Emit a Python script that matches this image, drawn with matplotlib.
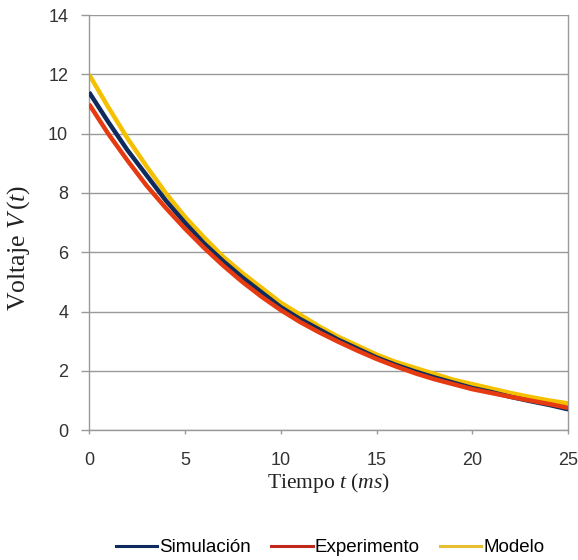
import matplotlib
matplotlib.use("Agg")
import matplotlib.pyplot as plt
from matplotlib.lines import Line2D

t = list(range(0, 26))
simulacion = [11.4, 10.4, 9.45, 8.6, 7.75, 7.0, 6.3, 5.7, 5.15, 4.65, 4.15, 3.75, 3.4, 3.05, 2.75,
              2.45, 2.2, 1.98, 1.78, 1.6, 1.42, 1.28, 1.12, 0.98, 0.85, 0.7]
experimento = [11.0, 10.0, 9.1, 8.25, 7.5, 6.8, 6.15, 5.55, 5.0, 4.5, 4.05, 3.65, 3.3, 2.98, 2.68,
               2.4, 2.15, 1.92, 1.72, 1.55, 1.38, 1.25, 1.12, 1.0, 0.88, 0.75]
modelo = [12.0, 10.9, 9.85, 8.9, 8.0, 7.2, 6.5, 5.85, 5.3, 4.8, 4.3, 3.9, 3.5, 3.15, 2.85,
          2.55, 2.3, 2.1, 1.9, 1.7, 1.55, 1.4, 1.25, 1.12, 1.0, 0.9]
labels = ["Simulación", "Experimento", "Modelo"]
xticks = [0, 5, 10, 15, 20, 25]
yticks = [0, 2, 4, 6, 8, 10, 12, 14]

plt.rcParams["mathtext.fontset"] = "custom"
plt.rcParams["mathtext.rm"] = "Liberation Serif"
plt.rcParams["mathtext.it"] = "Liberation Serif:italic"

fig = plt.figure(figsize=(5.78, 5.6), dpi=100)
ax = fig.add_axes([0.154, 0.232, 0.829, 0.741])

c_sim, c_exp, c_mod = "#0f2b5e", "#e63a10", "#f5c000"
ax.plot(t, simulacion, color=c_sim, lw=3.2, solid_capstyle="butt", zorder=3)
ax.plot(t, experimento, color=c_exp, lw=3.2, solid_capstyle="butt", zorder=4)
ax.plot(t, modelo, color=c_mod, lw=3.2, solid_capstyle="butt", zorder=2)

ax.set_xlim(0, 25)
ax.set_ylim(0, 14)
ax.set_xticks(xticks)
ax.set_yticks(yticks)
ax.grid(axis="y", color="#999999", lw=1.0)
ax.set_axisbelow(True)
ax.spines["top"].set_visible(False)
for s in ["left", "bottom", "right"]:
    ax.spines[s].set_color("#999999")
    ax.spines[s].set_linewidth(1.0)
ax.tick_params(axis="x", colors="#999999", length=3, width=1.0, pad=13, labelcolor="#333333")
ax.tick_params(axis="y", colors="#999999", length=6, width=1.0, pad=9, labelcolor="#333333")
for lab in ax.get_xticklabels() + ax.get_yticklabels():
    lab.set_fontfamily("Liberation Sans")
    lab.set_fontsize(13)

ax.set_xlabel("Tiempo $t\\ (ms)$", fontfamily="Liberation Serif", fontsize=15.5, color="#222222")
ax.set_ylabel("Voltaje $V\\,(t)$", fontfamily="Liberation Serif", fontsize=18.5, color="#222222")
ax.xaxis.set_label_coords(0.5, -0.098)
ax.yaxis.set_label_coords(-0.118, 0.44)

handles = [Line2D([], [], color=c, lw=2.2) for c in ["#0f2b5e", "#c0281c", "#e6c030"]]
fig.legend(handles, labels, loc="center", bbox_to_anchor=(0.571, 0.022), ncol=3, frameon=False,
           prop={"family": "Liberation Sans", "size": 13.5}, handlelength=2.2, handletextpad=0.1,
           columnspacing=1.1)

fig.savefig("out.png", dpi=100)
